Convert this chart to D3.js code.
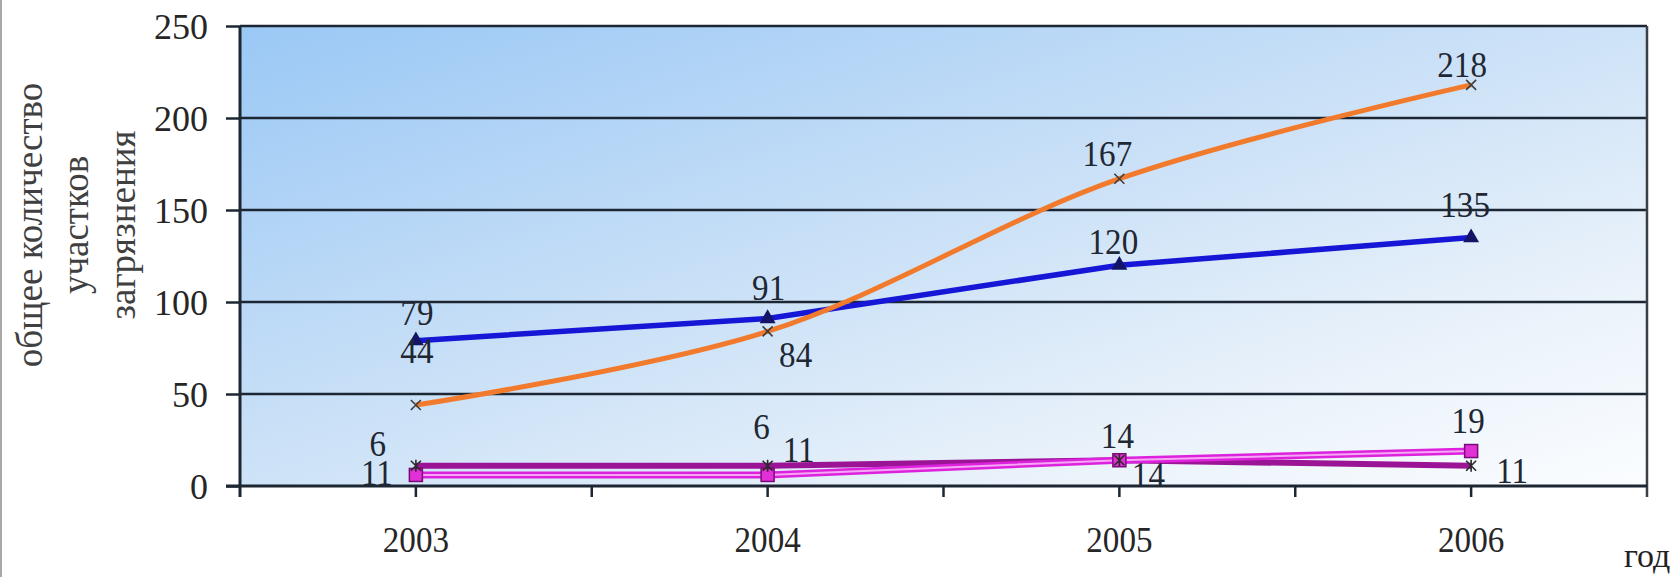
<!DOCTYPE html>
<html>
<head>
<meta charset="utf-8">
<script src="https://cdn.jsdelivr.net/npm/d3@7"></script>
<style>
  html, body { margin: 0; padding: 0; background: #ffffff; }
  svg { display: block; }
  text { font-family: "Liberation Serif", "Times New Roman", serif; }
</style>
</head>
<body>
<svg id="chart" width="1679" height="577"></svg>
<script>
// Data
const years = ["2003", "2004", "2005", "2006"];
const seriesOrange = [44, 84, 167, 218];
const seriesBlue = [79, 91, 120, 135];
const seriesPink = [6, 6, 14, 19];
const seriesPurple = [11, 11, 14, 11];
const yTicks = [0, 50, 100, 150, 200, 250];
const yTitleLines = ["общее количество", "участков", "загрязнения"];
const xTitle = "год";

// Label offsets (dx, dy from the point) for each series
const labelOffsets = {
  orange: [[1, -42], [28, 36], [-12, -13], [-9, -8]],
  blue: [[1, -16], [1, -19], [-6, -11], [-6, -21]],
  pink: [[-38, -19], [-6, -36], [-2, -12], [-3, -18]],
  purple: [[-39, 19], [31, -4], [29, 27], [41, 17]]
};

const svg = d3.select("#chart");
const plot = { left: 240, right: 1647, top: 26, bottom: 486 };

const x = d3.scaleBand().domain(years).range([plot.left, plot.right]);
const cx = d => x(d) + x.bandwidth() / 2;
const y = d3.scaleLinear().domain([0, 250]).range([plot.bottom, plot.top]);

// Thin gray frame edge at the left
svg.append("rect").attr("x", 0).attr("y", 0).attr("width", 2).attr("height", 577).attr("fill", "#a8a8a8");

// Plot-area gradient
const defs = svg.append("defs");
const grad = defs.append("linearGradient").attr("id", "bg")
  .attr("x1", 0).attr("y1", 0).attr("x2", 1).attr("y2", 1);
grad.append("stop").attr("offset", 0).attr("stop-color", "#9ac8f5");
grad.append("stop").attr("offset", 0.45).attr("stop-color", "#c9e0f7");
grad.append("stop").attr("offset", 0.75).attr("stop-color", "#e8f1fa");
grad.append("stop").attr("offset", 1).attr("stop-color", "#fbfdff");

svg.append("rect")
  .attr("x", plot.left).attr("y", plot.top)
  .attr("width", plot.right - plot.left).attr("height", plot.bottom - plot.top)
  .attr("fill", "url(#bg)");

// Horizontal grid lines (including the top border)
svg.append("g").selectAll("line")
  .data(yTicks.filter(v => v > 0))
  .join("line")
  .attr("x1", plot.left).attr("x2", plot.right)
  .attr("y1", d => y(d)).attr("y2", d => y(d))
  .attr("stroke", "#1d2733").attr("stroke-width", 2.5);

// Right border
svg.append("line")
  .attr("x1", plot.right).attr("x2", plot.right)
  .attr("y1", plot.top).attr("y2", plot.bottom + 11)
  .attr("stroke", "#3a3f46").attr("stroke-width", 2.5);

// Y axis
const yAxis = svg.append("g")
  .attr("transform", `translate(${plot.left},0)`)
  .call(d3.axisLeft(y).tickValues(yTicks).tickSize(14).tickPadding(18));
yAxis.select(".domain").remove();
yAxis.selectAll(".tick line").attr("stroke", "#1d2733").attr("stroke-width", 2.5);
yAxis.selectAll(".tick text")
  .attr("font-size", 36).attr("fill", "#262626")
  .attr("font-family", "Liberation Serif, serif")
  .attr("dy", "0.34em");
svg.append("line")
  .attr("x1", plot.left).attr("x2", plot.left)
  .attr("y1", plot.top).attr("y2", plot.bottom + 11)
  .attr("stroke", "#1d2733").attr("stroke-width", 3);

// X axis line and ticks (at category centres and boundaries)
svg.append("line")
  .attr("x1", plot.left - 14).attr("x2", plot.right)
  .attr("y1", plot.bottom).attr("y2", plot.bottom)
  .attr("stroke", "#1d2733").attr("stroke-width", 3);
const tickXs = [];
years.forEach(d => { tickXs.push(x(d)); tickXs.push(cx(d)); });
svg.append("g").selectAll("line")
  .data(tickXs.slice(1))
  .join("line")
  .attr("x1", d => d).attr("x2", d => d)
  .attr("y1", plot.bottom).attr("y2", plot.bottom + 11)
  .attr("stroke", "#1d2733").attr("stroke-width", 2.5);

// X tick labels
svg.append("g").selectAll("text")
  .data(years)
  .join("text")
  .attr("transform", d => `translate(${cx(d)},552) scale(0.92,1)`)
  .attr("text-anchor", "middle")
  .attr("font-size", 36).attr("fill", "#262626")
  .text(d => d);

// Axis titles
svg.append("text")
  .attr("x", 1624).attr("y", 567)
  .attr("font-size", 34).attr("fill", "#222")
  .text(xTitle);

const titleX = [42, 88, 135];
svg.append("g").selectAll("text")
  .data(yTitleLines)
  .join("text")
  .attr("transform", (d, i) => `translate(${titleX[i]},225) rotate(-90)`)
  .attr("text-anchor", "middle")
  .attr("font-size", 37).attr("fill", "#404040")
  .text(d => d);

// Lines
const straight = d3.line().x((d, i) => cx(years[i])).y(d => y(d));
const smooth = d3.line().x((d, i) => cx(years[i])).y(d => y(d)).curve(d3.curveCatmullRom.alpha(0.5));

svg.append("path").datum(seriesPurple).attr("d", straight)
  .attr("fill", "none").attr("stroke", "#9c1496").attr("stroke-width", 6);
svg.append("path").datum(seriesPink).attr("d", straight)
  .attr("fill", "none").attr("stroke", "#dc22dc").attr("stroke-width", 7);
svg.append("path").datum(seriesPink).attr("d", straight)
  .attr("fill", "none").attr("stroke", "#f7a6f5").attr("stroke-width", 2);
svg.append("path").datum(seriesBlue).attr("d", straight)
  .attr("fill", "none").attr("stroke", "#1616d6").attr("stroke-width", 5.5);
svg.append("path").datum(seriesOrange).attr("d", smooth)
  .attr("fill", "none").attr("stroke", "#f27a2c").attr("stroke-width", 5);

// Markers
const tri = d3.symbol().type(d3.symbolTriangle).size(110);
svg.append("g").selectAll("path")
  .data(seriesBlue)
  .join("path")
  .attr("transform", (d, i) => `translate(${cx(years[i])},${y(d)})`)
  .attr("d", tri)
  .attr("fill", "#141466");

svg.append("g").selectAll("rect")
  .data(seriesPink)
  .join("rect")
  .attr("x", (d, i) => cx(years[i]) - 6.5).attr("y", d => y(d) - 6.5)
  .attr("width", 13).attr("height", 13)
  .attr("fill", "#e030d6").attr("stroke", "#7a0a78").attr("stroke-width", 1.5);

const xMark = svg.append("g").selectAll("g")
  .data(seriesOrange)
  .join("g")
  .attr("transform", (d, i) => `translate(${cx(years[i])},${y(d)})`);
xMark.append("path").attr("d", "M-5,-5L5,5M-5,5L5,-5")
  .attr("stroke", "#3d3d3d").attr("stroke-width", 1.6).attr("fill", "none");

const starMark = svg.append("g").selectAll("g")
  .data(seriesPurple)
  .join("g")
  .attr("transform", (d, i) => `translate(${cx(years[i])},${y(d)})`);
starMark.append("path").attr("d", "M-5,-5L5,5M-5,5L5,-5M0,-6L0,6")
  .attr("stroke", "#2a2a2a").attr("stroke-width", 1.6).attr("fill", "none");

// Value labels
function addLabels(values, offsets) {
  svg.append("g").selectAll("text")
    .data(values)
    .join("text")
    .attr("transform", (d, i) => `translate(${cx(years[i]) + offsets[i][0]},${y(d) + offsets[i][1]}) scale(0.92,1)`)
    .attr("text-anchor", "middle")
    .attr("font-size", 36).attr("fill", "#1f2733")
    .text(d => d);
}
addLabels(seriesOrange, labelOffsets.orange);
addLabels(seriesBlue, labelOffsets.blue);
addLabels(seriesPink, labelOffsets.pink);
addLabels(seriesPurple, labelOffsets.purple);
</script>
</body>
</html>
